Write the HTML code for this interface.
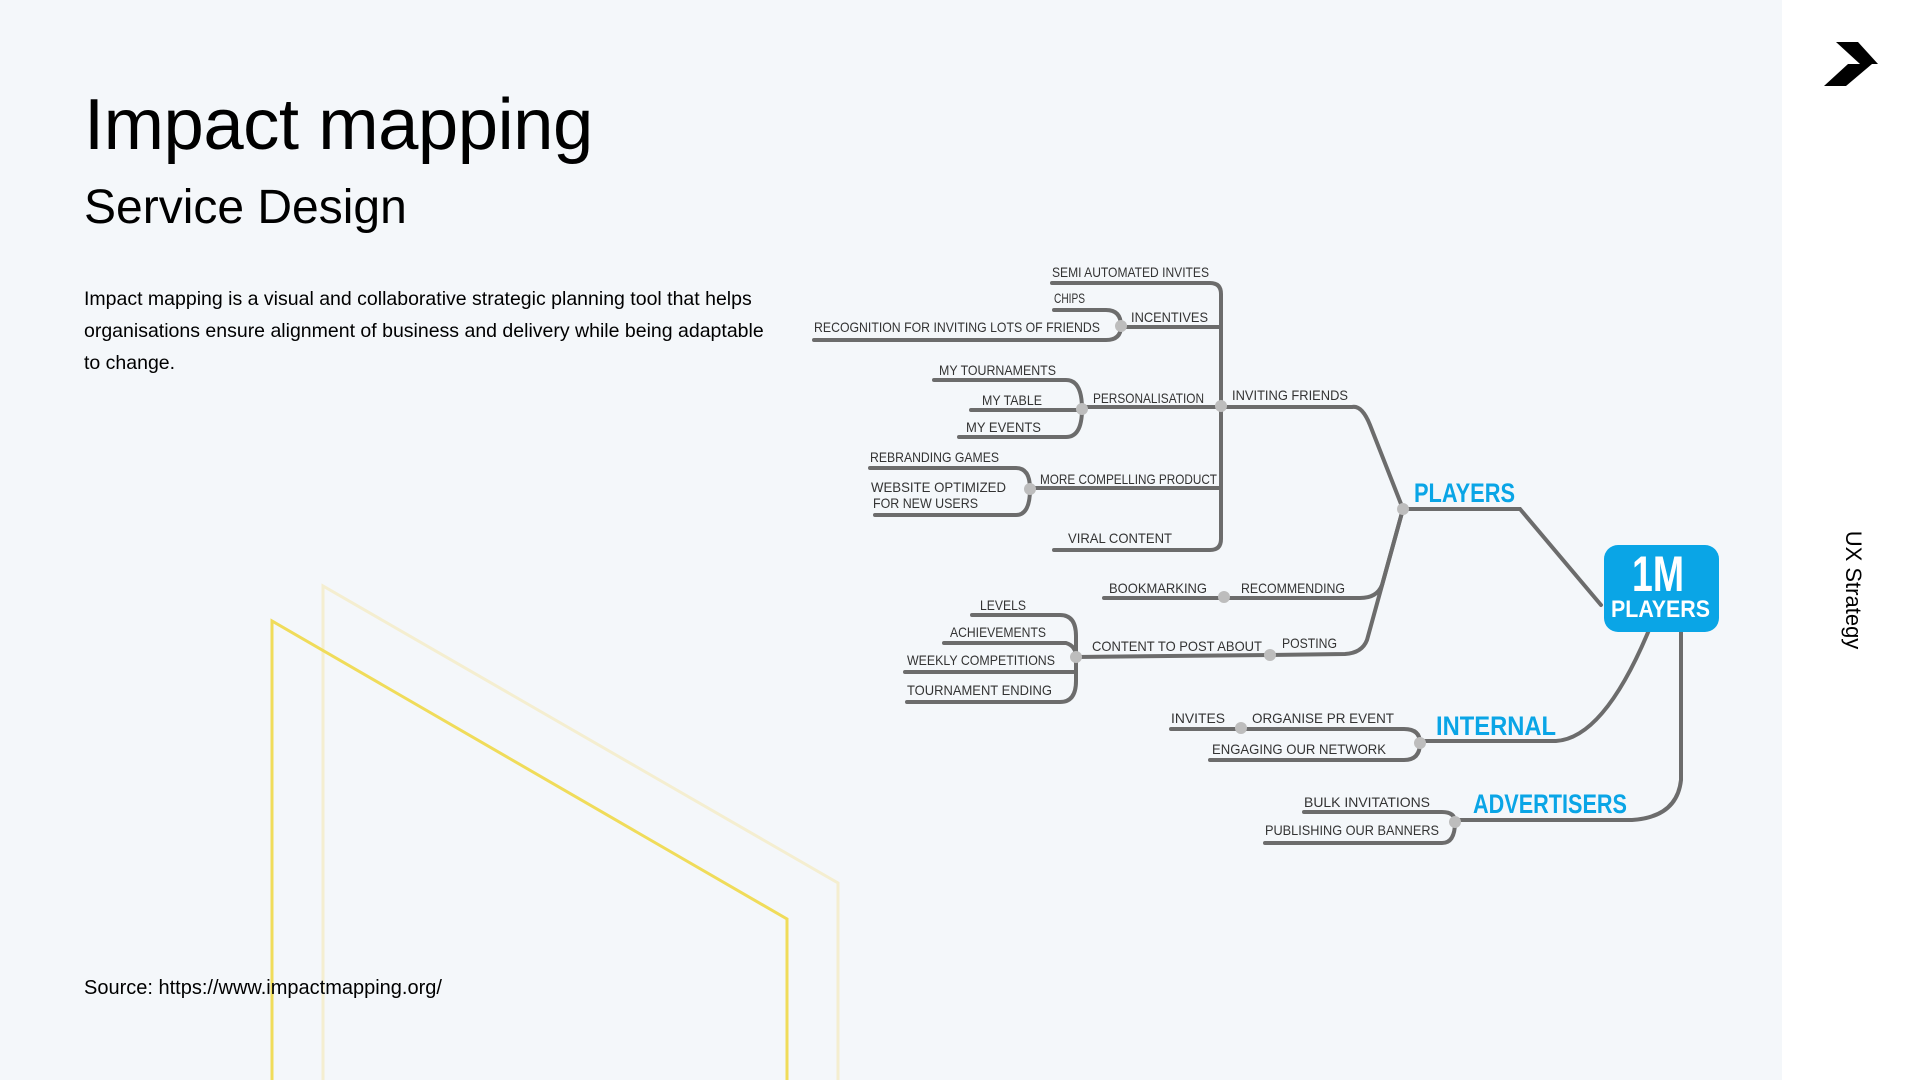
<!DOCTYPE html>
<html><head><meta charset="utf-8"><style>
html,body{margin:0;padding:0}
body{width:1920px;height:1080px;position:relative;overflow:hidden;background:#f4f7fa;font-family:"Liberation Sans",sans-serif;color:#000}
.side{position:absolute;left:1782px;top:0;width:138px;height:1080px;background:#fff}
h1{position:absolute;left:84px;top:80px;margin:0;font-weight:400;font-size:72.5px;line-height:90px;letter-spacing:-0.5px}
h2{position:absolute;left:84px;top:178px;margin:0;font-weight:400;font-size:48px;line-height:60px}
p{position:absolute;left:84px;top:283px;width:700px;margin:0;font-size:19.5px;line-height:32px}
.src{position:absolute;left:84px;top:977px;font-size:20px}
.ux{position:absolute;left:1853px;top:590px;transform:translate(-50%,-50%) rotate(90deg);font-size:22px;white-space:nowrap}
</style></head><body>
<div class="side"></div>
<svg style="position:absolute;left:0;top:0" width="1920" height="1080">
<polyline points="323,1080 323,586 838,883 838,1080" fill="none" stroke="#f4eed0" stroke-width="3"/>
<polyline points="272,1080 272,621 787,919 787,1080" fill="none" stroke="#f0dc5a" stroke-width="3"/>
<polygon points="1836,42 1858,42 1878,64 1860,64" fill="#000"/>
<polygon points="1848,64 1872,64 1846,86 1824,86" fill="#000"/>
</svg>
<h1>Impact mapping</h1>
<h2>Service Design</h2>
<p>Impact mapping is a visual and collaborative strategic planning tool that helps organisations ensure alignment of business and delivery while being adaptable to change.</p>
<div class="src">Source: https://www.impactmapping.org/</div>
<div class="ux">UX Strategy</div>
<svg style="position:absolute;left:0;top:0" width="1920" height="1080">
<g fill="none" stroke="#6c6c6c" stroke-width="4" stroke-linecap="round">
<path d="M1052,283 H1210 Q1221,283 1221,294 V539 Q1221,550 1210,550 H1054"/>
<path d="M1054,310 H1106 Q1121,310 1121,326 Q1121,340 1106,340 H814"/>
<path d="M1121,327 H1221"/>
<path d="M934,380 H1066 Q1082,380 1082,409 Q1082,437 1066,437 H959"/>
<path d="M971,410 H1082 M1082,407 H1221 H1352 Q1362,405 1370,425 L1403,509"/>
<path d="M870,468 H1016 Q1030,468 1030,489 Q1030,515 1016,515 H875"/>
<path d="M1030,488 H1221"/>
<path d="M1403,509 H1520 L1601,605"/>
<path d="M1403,509 L1382,585 Q1377,598 1360,598 H1104"/>
<path d="M1403,509 L1367,640 Q1362,653 1345,654 L1270,655 L1076,657"/>
<path d="M972,615 H1060 Q1076,615 1076,636 V681 Q1076,702 1060,702 H907"/>
<path d="M944,643 H1066 Q1076,646 1076,657 M905,672 H1076"/>
<path d="M1649,630 Q1604,738 1556,741 H1420"/>
<path d="M1171,729 H1404 Q1420,729 1420,743 Q1420,760 1404,760 H1210"/>
<path d="M1681,630 V780 Q1677,817 1632,820 H1455"/>
<path d="M1304,812 H1442 Q1455,812 1455,822 Q1455,843 1442,843 H1265"/>
</g>
<g fill="#bdbdbd">
<circle cx="1121" cy="326" r="6"/><circle cx="1221" cy="406" r="6"/><circle cx="1082" cy="409" r="6"/>
<circle cx="1030" cy="489" r="6"/><circle cx="1403" cy="509" r="6"/><circle cx="1224" cy="597" r="6"/>
<circle cx="1076" cy="657" r="6"/><circle cx="1270" cy="655" r="6"/><circle cx="1420" cy="743" r="6"/>
<circle cx="1241" cy="728" r="6"/><circle cx="1455" cy="822" r="6"/>
</g>
<rect x="1604" y="545" width="115" height="87" rx="14" fill="#0aa5e6"/>
<g font-family="Liberation Sans Narrow,Liberation Sans,sans-serif" font-weight="700" fill="#fff">
<text x="1632" y="591" font-size="50" textLength="52" lengthAdjust="spacingAndGlyphs">1M</text>
<text x="1611" y="617" font-size="24" textLength="99" lengthAdjust="spacingAndGlyphs">PLAYERS</text>
</g>
<g font-family="Liberation Sans,sans-serif" font-weight="700" fill="#0aa5e6" font-size="27">
<text x="1414" y="502" textLength="101" lengthAdjust="spacingAndGlyphs">PLAYERS</text>
<text x="1436" y="735" textLength="120" lengthAdjust="spacingAndGlyphs">INTERNAL</text>
<text x="1473" y="813" textLength="154" lengthAdjust="spacingAndGlyphs">ADVERTISERS</text>
</g>
<g font-family="Liberation Sans,sans-serif" fill="#333" font-size="14">
<text x="1052" y="277" textLength="157" lengthAdjust="spacingAndGlyphs">SEMI AUTOMATED INVITES</text>
<text x="1054" y="303" textLength="31" lengthAdjust="spacingAndGlyphs">CHIPS</text>
<text x="1131" y="322" textLength="77" lengthAdjust="spacingAndGlyphs">INCENTIVES</text>
<text x="814" y="332" textLength="286" lengthAdjust="spacingAndGlyphs">RECOGNITION FOR INVITING LOTS OF FRIENDS</text>
<text x="939" y="375" textLength="117" lengthAdjust="spacingAndGlyphs">MY TOURNAMENTS</text>
<text x="982" y="405" textLength="60" lengthAdjust="spacingAndGlyphs">MY TABLE</text>
<text x="966" y="432" textLength="75" lengthAdjust="spacingAndGlyphs">MY EVENTS</text>
<text x="1093" y="403" textLength="111" lengthAdjust="spacingAndGlyphs">PERSONALISATION</text>
<text x="1232" y="400" textLength="116" lengthAdjust="spacingAndGlyphs">INVITING FRIENDS</text>
<text x="870" y="462" textLength="129" lengthAdjust="spacingAndGlyphs">REBRANDING GAMES</text>
<text x="871" y="492" textLength="135" lengthAdjust="spacingAndGlyphs">WEBSITE OPTIMIZED</text>
<text x="873" y="508" textLength="105" lengthAdjust="spacingAndGlyphs">FOR NEW USERS</text>
<text x="1040" y="484" textLength="177" lengthAdjust="spacingAndGlyphs">MORE COMPELLING PRODUCT</text>
<text x="1068" y="543" textLength="104" lengthAdjust="spacingAndGlyphs">VIRAL CONTENT</text>
<text x="1109" y="593" textLength="98" lengthAdjust="spacingAndGlyphs">BOOKMARKING</text>
<text x="1241" y="593" textLength="104" lengthAdjust="spacingAndGlyphs">RECOMMENDING</text>
<text x="980" y="610" textLength="46" lengthAdjust="spacingAndGlyphs">LEVELS</text>
<text x="950" y="637" textLength="96" lengthAdjust="spacingAndGlyphs">ACHIEVEMENTS</text>
<text x="907" y="665" textLength="148" lengthAdjust="spacingAndGlyphs">WEEKLY COMPETITIONS</text>
<text x="907" y="695" textLength="145" lengthAdjust="spacingAndGlyphs">TOURNAMENT ENDING</text>
<text x="1092" y="651" textLength="170" lengthAdjust="spacingAndGlyphs">CONTENT TO POST ABOUT</text>
<text x="1282" y="648" textLength="55" lengthAdjust="spacingAndGlyphs">POSTING</text>
<text x="1171" y="723" textLength="54" lengthAdjust="spacingAndGlyphs">INVITES</text>
<text x="1252" y="723" textLength="142" lengthAdjust="spacingAndGlyphs">ORGANISE PR EVENT</text>
<text x="1212" y="754" textLength="174" lengthAdjust="spacingAndGlyphs">ENGAGING OUR NETWORK</text>
<text x="1304" y="807" textLength="126" lengthAdjust="spacingAndGlyphs">BULK INVITATIONS</text>
<text x="1265" y="835" textLength="174" lengthAdjust="spacingAndGlyphs">PUBLISHING OUR BANNERS</text>
</g>
</svg>
</body></html>
